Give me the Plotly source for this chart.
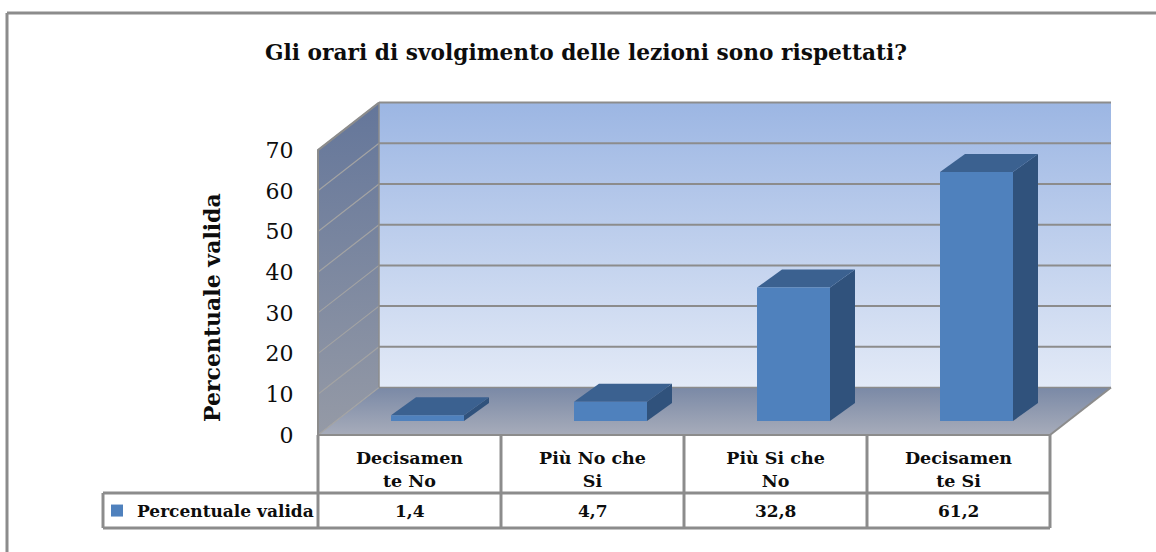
import plotly.graph_objects as go

categories = ["Decisamen<br>te No", "Più No che<br>Si", "Più Si che<br>No", "Decisamen<br>te Si"]
values = [1.4, 4.7, 32.8, 61.2]
series_name = "Percentuale valida"
y_ticks = [0, 10, 20, 30, 40, 50, 60, 70]
title_text = "Gli orari di svolgimento delle lezioni sono rispettati?"

W, H = 1156, 552
X0, UX = 318.0, 183.0   # pixel of category edge 0, pixels per category
Y0, UY = 435.0, 4.07    # pixel of value 0, pixels per value unit
FONT = "DejaVu Serif"
GRAY = "#8c8c8c"
INK = "#0d0d0d"

WALL_DX, WALL_DY = 61 / UX, 47.5 / UY
BAR_DX, BAR_DY = 25 / UX, 18 / UY
SHIFT_X, SHIFT_Y = 18 / UX, 14 / UY
BAR_W = 73 / UX
TOP = y_ticks[-1]
N = len(categories)

def px(x):
    return x / W

def py(y):
    return 1 - y / H

fig = go.Figure()

def poly(xs, ys, color=None, grad=None, z=0):
    kw = dict(x=xs, y=ys, mode="lines", fill="toself", hoverinfo="skip",
              showlegend=False, zorder=z, line=dict(width=0, color="rgba(0,0,0,0)"))
    if grad:
        kw["fillgradient"] = dict(type="vertical", colorscale=[[0, grad[0]], [1, grad[1]]])
    else:
        kw["fillcolor"] = color
    fig.add_trace(go.Scatter(**kw))

def wire(xs, ys, width=2, color=GRAY):
    fig.add_trace(go.Scatter(x=xs, y=ys, mode="lines", line=dict(color=color, width=width),
                             hoverinfo="skip", showlegend=False, zorder=-4))

# back wall, side wall, floor
poly([WALL_DX, N + WALL_DX, N + WALL_DX, WALL_DX, WALL_DX],
     [WALL_DY, WALL_DY, TOP + WALL_DY, TOP + WALL_DY, WALL_DY],
     grad=("#e3eaf7", "#9cb6e3"), z=-5)
poly([0, WALL_DX, WALL_DX, 0, 0], [0, WALL_DY, TOP + WALL_DY, TOP, 0],
     grad=("#959aa6", "#64769a"), z=-5)
poly([0, N, N + WALL_DX, WALL_DX, 0], [0, 0, WALL_DY, WALL_DY, 0],
     grad=("#a7acba", "#7a89a6"), z=-5)

# gridlines: thin on the side wall, heavier on the back wall
for t in y_ticks:
    wire([0, WALL_DX], [t, t + WALL_DY], 1.2, "#a3a3a3")
    wire([WALL_DX, N + WALL_DX], [t + WALL_DY, t + WALL_DY], 2 if t else 1.5)
# wall edges
wire([0, 0, WALL_DX], [0, TOP, TOP + WALL_DY], 2)
wire([WALL_DX, WALL_DX], [WALL_DY, TOP + WALL_DY], 1.5)
wire([N, N + WALL_DX], [0, WALL_DY], 2)

# bars
centers = [i + 0.5 + SHIFT_X for i in range(N)]
for c, v in zip(centers, values):
    l, r = c - BAR_W / 2, c + BAR_W / 2
    b, t = SHIFT_Y, SHIFT_Y + v
    poly([r, r + BAR_DX, r + BAR_DX, r, r], [b, b + BAR_DY, t + BAR_DY, t, b], color="#30527c", z=1)
    poly([l, r, r + BAR_DX, l + BAR_DX, l], [t, t, t + BAR_DY, t + BAR_DY, t], color="#3b6190", z=1)
fig.add_trace(go.Bar(x=centers, y=values, base=SHIFT_Y, width=BAR_W, name=series_name,
                     marker=dict(color="#4f81bd", line=dict(width=0)), zorder=2, hoverinfo="skip"))

shapes = []
def seg(x0, y0, x1, y1, w=3):
    shapes.append(dict(type="line", xref="paper", yref="paper", x0=px(x0), y0=py(y0),
                       x1=px(x1), y1=py(y1), line=dict(color=GRAY, width=w)))

# outer frame (left and top)
seg(7, 13, 7, H)
seg(7, 13, W, 13)
# data table
seg(318, 435, 318, 528)
for i in range(1, N + 1):
    seg(X0 + UX * i, 435, X0 + UX * i, 528)
seg(318, 435, 1050, 435, 2)
seg(103, 493, 1050, 493)
seg(103, 528, 1050, 528)
seg(103, 493, 103, 528)

annotations = [
    dict(text=f"<b>{v:.1f}</b>".replace(".", ","), x=i + 0.5, xref="x", y=py(511), yref="paper",
         showarrow=False, font=dict(family=FONT, size=17, color=INK), yanchor="middle")
    for i, v in enumerate(values)
]
annotations.append(dict(text=f"<b>{series_name}</b>", textangle=-90, x=px(212), y=py(308),
                        xref="paper", yref="paper", xanchor="center", yanchor="middle",
                        showarrow=False, font=dict(family=FONT, size=22, color=INK)))

fig.update_layout(
    width=W, height=H, margin=dict(l=0, r=0, t=0, b=0), autosize=False,
    paper_bgcolor="white", plot_bgcolor="white",
    barmode="overlay",
    title=dict(text=f"<b>{title_text}</b>", x=586 / W, xanchor="center", y=py(52), yanchor="middle",
               font=dict(family=FONT, size=21.7, color=INK)),
    xaxis=dict(range=[-X0 / UX, (W - X0) / UX], domain=[0, 1], anchor="free", position=py(Y0),
               showgrid=False, zeroline=False, showline=False,
               tickmode="array", tickvals=[i + 0.5 for i in range(N)], ticktext=categories,
               ticks="outside", ticklen=7, tickcolor="rgba(0,0,0,0)", tickangle=0,
               tickfont=dict(family=FONT, size=17.5, color=INK, weight="bold")),
    yaxis=dict(range=[(Y0 - H) / UY, Y0 / UY], domain=[0, 1], anchor="free", position=px(X0),
               showgrid=False, zeroline=False, showline=False,
               tickmode="array", tickvals=y_ticks, ticktext=[str(t) for t in y_ticks],
               ticks="outside", ticklen=20, tickcolor="rgba(0,0,0,0)",
               tickfont=dict(family=FONT, size=22, color=INK)),
    legend=dict(x=97 / W, y=py(511), xanchor="left", yanchor="middle", bgcolor="rgba(0,0,0,0)",
                font=dict(family=FONT, size=17, color=INK, weight="bold")),
    showlegend=True,
    shapes=shapes, annotations=annotations,
)
fig.write_html("out.html", config={"displayModeBar": False},
               post_script="document.body.style.margin='0';document.body.style.overflow='hidden';")
